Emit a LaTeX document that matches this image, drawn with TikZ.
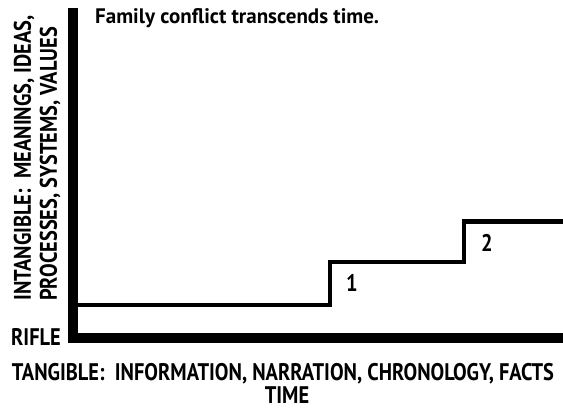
\documentclass[tikz,border=0pt]{standalone}
\usepackage{fontspec}
\setmainfont{PT Sans}
\newfontfamily\cond[FakeStretch=0.85]{PT Sans}
\newfontfamily\condt[FakeStretch=1.0]{PT Sans}
\begin{document}
\begin{tikzpicture}[x=1pt,y=-1pt,
  axis/.style={line width=10pt},
  stair/.style={line width=4.5pt,line join=miter},
  lab/.style={font=\cond\bfseries\fontsize{24}{26}\selectfont,inner sep=0pt},
  title/.style={font=\condt\bfseries\fontsize{21}{22}\selectfont,inner sep=0pt}]
\useasboundingbox (0,0) rectangle (563,411);
\coordinate (top) at (73,8);
\coordinate (corner) at (73,338);
\coordinate (right) at (563,338);
\draw[axis,line join=miter] (top) -- (corner) -- (right);
\coordinate (s0) at (78,305);
\coordinate (s1) at (330,305);
\coordinate (s2) at (330,262);
\coordinate (s3) at (464,262);
\coordinate (s4) at (464,221.5);
\coordinate (s5) at (563,221.5);
\draw[stair] (s0) -- (s1) -- (s2) -- (s3) -- (s4) -- (s5);
\node[title,anchor=west] (t) at (95,18) {Family conflict transcends time.};
\node[lab,anchor=center] (n1) at (352,283) {1};
\node[lab,anchor=center] (n2) at (487,243) {2};
\node[lab,rotate=90,anchor=west] (v1) at (24,301) {INTANGIBLE:\ \ MEANINGS, IDEAS,};
\node[lab,rotate=90,anchor=west] (v2) at (50,301) {PROCESSES, SYSTEMS, VALUES};
\node[lab,anchor=west] (rifle) at (11,337) {RIFLE};
\node[lab,anchor=center] (tang) at (283,374) {TANGIBLE:\ \ INFORMATION, NARRATION, CHRONOLOGY, FACTS};
\node[lab,anchor=center] (time) at (287,395) {TIME};
\end{tikzpicture}
\end{document}
